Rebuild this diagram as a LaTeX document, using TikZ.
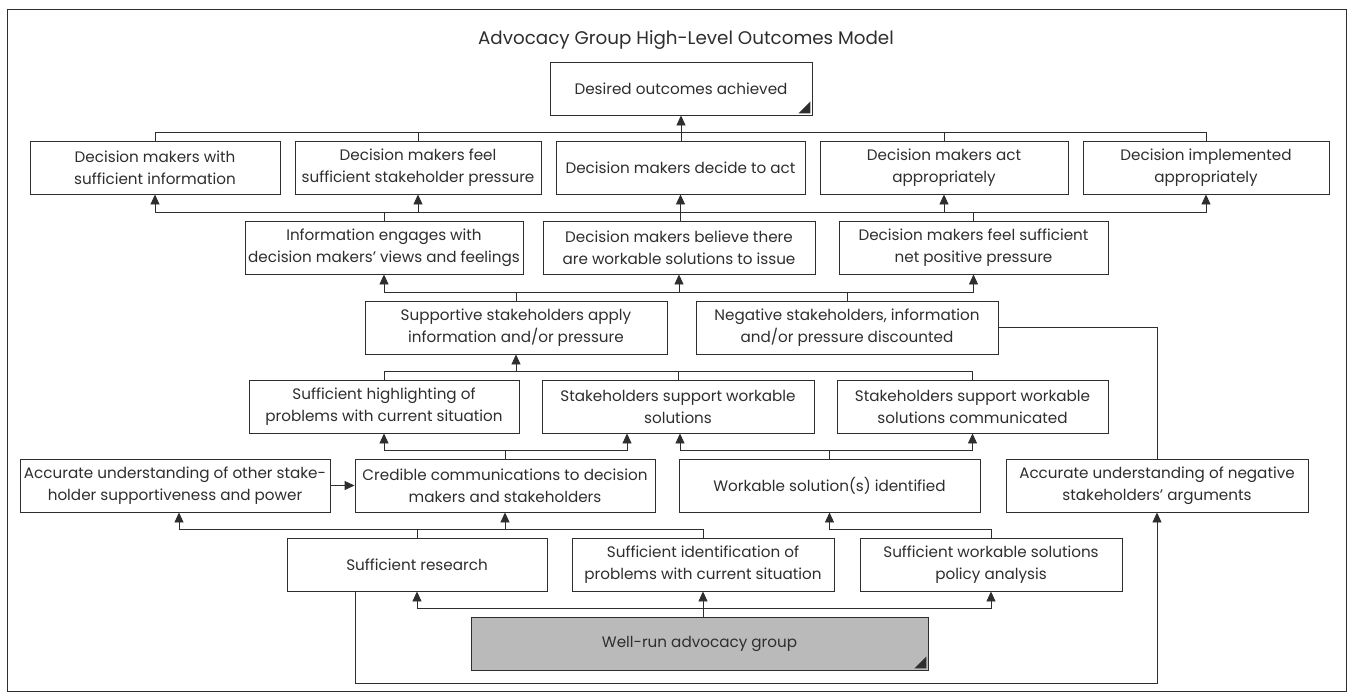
\documentclass[tikz,border=0pt]{standalone}
\usepackage{fontspec}
\setmainfont{Poppins}
\usetikzlibrary{arrows.meta}
\definecolor{ink}{HTML}{2E2E2E}
\definecolor{wellfill}{HTML}{BABABA}
\begin{document}
\begin{tikzpicture}[x=1pt,y=-1pt,
  box/.style={draw=ink, line width=0.9pt, text=ink, align=center, minimum height=53pt, inner sep=0pt, font=\fontsize{15.2}{22}\selectfont},
  ln/.style={draw=ink, line width=0.9pt},
  arr/.style={ln, -{Triangle[length=10pt,width=9pt]}},
  tri/.style={fill=ink}
]
\useasboundingbox (0,0) rectangle (1353,697);
\fill[white] (0,0) rectangle (1353,697);
\draw[ln] (7,9) rectangle (1346,691);

\node[text=ink, font=\fontsize{18.3}{22}\selectfont] (title) at (686,40) {Advocacy Group High-Level Outcomes Model};

\coordinate (y1) at (0,132);
\coordinate (y2) at (0,212.5);
\coordinate (y3) at (0,292.5);
\coordinate (y4) at (0,371.5);
\coordinate (y5) at (0,450.5);
\coordinate (y6) at (0,529.5);
\coordinate (y7) at (0,608.5);
\coordinate (ybot) at (0,683);

\node[box, minimum width=262pt] (Des) at (681,88.5) {Desired outcomes achieved};

\node[box, minimum width=250pt] (B1) at (155,167.5) {Decision makers with\\sufficient information};
\node[box, minimum width=246pt] (B2) at (418,167.5) {Decision makers feel\\sufficient stakeholder pressure};
\node[box, minimum width=249pt] (B3) at (680.5,167.5) {Decision makers decide to act};
\node[box, minimum width=248pt] (B4) at (944,167.5) {Decision makers act\\appropriately};
\node[box, minimum width=246pt] (B5) at (1206,167.5) {Decision implemented\\appropriately};

\node[box, minimum width=278pt] (Info) at (384,247.5) {Information engages with\\decision makers’ views and feelings};
\node[box, minimum width=272pt] (Believe) at (679,247.5) {Decision makers believe there\\are workable solutions to issue};
\node[box, minimum width=269pt] (NetPos) at (973.5,247.5) {Decision makers feel sufficient\\net positive pressure};

\node[box, minimum width=302pt] (Supp) at (516,327.5) {Supportive stakeholders apply\\information and/or pressure};
\node[box, minimum width=302pt] (Neg) at (847,327.5) {Negative stakeholders, information\\and/or pressure discounted};

\node[box, minimum width=270pt] (High) at (384,406.5) {Sufficient highlighting of\\problems with current situation};
\node[box, minimum width=272pt] (SupW) at (678,406.5) {Stakeholders support workable\\solutions};
\node[box, minimum width=271pt] (Comm) at (972.5,406.5) {Stakeholders support workable\\solutions communicated};

\node[box, minimum width=310pt] (AccO) at (175,485.5) {Accurate understanding of other stake-\\holder supportiveness and power};
\node[box, minimum width=300pt] (Cred) at (505,485.5) {Credible communications to decision\\makers and stakeholders};
\node[box, minimum width=301pt] (Work) at (829.5,485.5) {Workable solution(s) identified};
\node[box, minimum width=302pt] (AccN) at (1157,485.5) {Accurate understanding of negative\\stakeholders’ arguments};

\node[box, minimum width=260pt] (Res) at (417,564.5) {Sufficient research};
\node[box, minimum width=262pt] (Ident) at (703,564.5) {Sufficient identification of\\problems with current situation};
\node[box, minimum width=262pt] (Pol) at (991,564.5) {Sufficient workable solutions\\policy analysis};

\node[box, fill=wellfill, minimum width=457pt] (Well) at (699.5,643.5) {Well-run advocacy group};

% corner marks
\fill[tri] ([xshift=-2pt,yshift=2pt]Des.south east) -- ++(-12,0) -- ++(12,-12) -- cycle;
\fill[tri] ([xshift=-2pt,yshift=2pt]Well.south east) -- ++(-12,0) -- ++(12,-12) -- cycle;

% row 1 -> desired
\draw[ln] (B1.north) |- (B5.north |- y1) -- (B5.north);
\draw[ln] (B2.north) -- (B2.north |- y1);
\draw[ln] (B4.north) -- (B4.north |- y1);
\draw[arr] (Des.south |- B3.north) -- (Des.south);

% row 2 -> row 1
\draw[ln] (B1.south |- y2) -- (B5.south |- y2);
\foreach \n in {B1,B2,B4,B5} \draw[arr] (\n.south |- y2) -- (\n.south);
\draw[arr] (B3.south |- Believe.north) -- (B3.south);
\draw[ln] (Info.north) -- (Info.north |- y2);
\draw[ln] (NetPos.north) -- (NetPos.north |- y2);

% row 3 -> row 2
\draw[ln] (Info.south |- y3) -- (NetPos.south |- y3);
\foreach \n in {Info,Believe,NetPos} \draw[arr] (\n.south |- y3) -- (\n.south);
\draw[ln] (Supp.north) -- (Supp.north |- y3);
\draw[ln] (Neg.north) -- (Neg.north |- y3);

% row 4 -> supportive
\draw[ln] (High.north) |- (Comm.north |- y4) -- (Comm.north);
\draw[ln] (SupW.north) -- (SupW.north |- y4);
\draw[arr] (Supp.south |- y4) -- (Supp.south);

% row 5 -> row 4
\draw[ln] (Cred.north) -- (Cred.north |- y5);
\draw[arr] (Cred.north |- y5) -| (High.south);
\draw[arr] (Cred.north |- y5) -| ([xshift=-51pt]SupW.south);
\draw[ln] (Work.north) -- (Work.north |- y5);
\draw[arr] (Work.north |- y5) -| ([xshift=2pt]SupW.south);
\draw[arr] (Work.north |- y5) -| (Comm.south);
\draw[arr] (AccO.east) -- (Cred.west);

% row 6 -> row 5
\draw[ln] ([xshift=4pt]AccO.south |- y6) -- (Ident.north |- y6) -- (Ident.north);
\draw[arr] ([xshift=4pt]AccO.south |- y6) -- ([xshift=4pt]AccO.south);
\draw[arr] (Cred.south |- y6) -- (Cred.south);
\draw[ln] (Res.north) -- (Res.north |- y6);
\draw[arr] (Pol.north) |- (Work.south |- y6) -- (Work.south);

% well-run -> row 6
\draw[ln] (Res.south |- y7) -- (Pol.south |- y7);
\foreach \n in {Res,Ident,Pol} \draw[arr] (\n.south |- y7) -- (\n.south);
\draw[ln] (Ident.south |- Well.north) -- (Ident.south |- y7);

% loop and negative link
\draw[arr] ([xshift=-62pt]Res.south) |- (AccN.south |- ybot) -- (AccN.south);
\draw[ln] (Neg.east) -| (AccN.north);
\end{tikzpicture}
\end{document}
